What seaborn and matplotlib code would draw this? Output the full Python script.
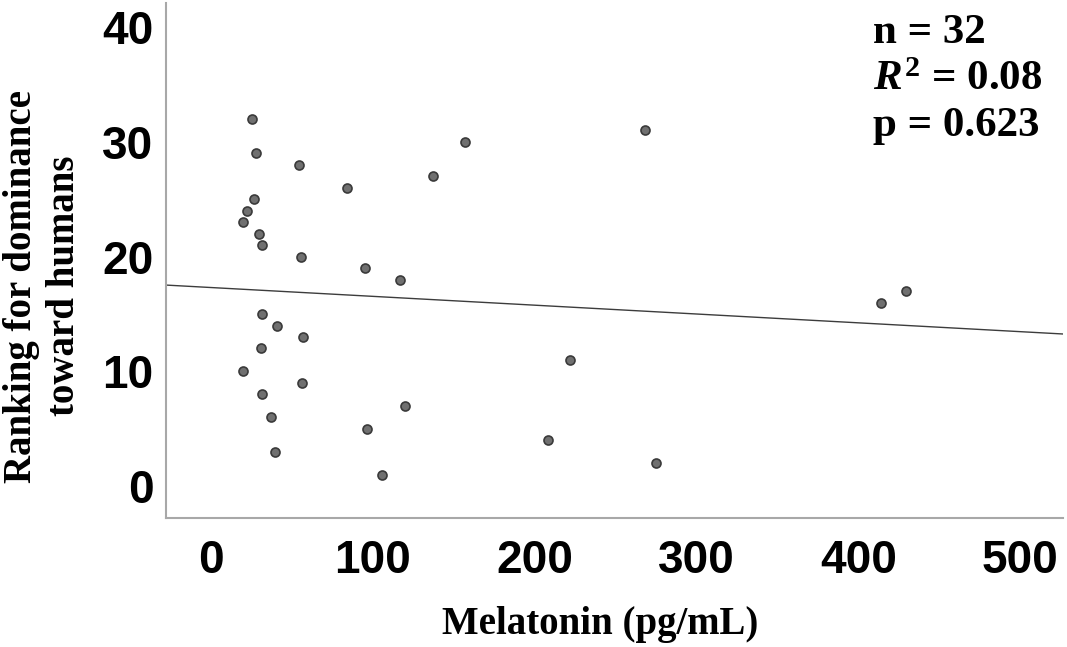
import matplotlib
matplotlib.use('Agg')
import matplotlib.pyplot as plt
import pandas as pd
import seaborn as sns

# melatonin (pg/mL) and dominance ranking
melatonin = [25.3, 268, 157, 27.8, 54.2, 137.2, 84.2, 26.6, 22.4, 19.6,
             29.5, 31.5, 55.8, 95.0, 116.6, 429.5, 414.1, 31.5, 40.6, 56.7,
             31.1, 221.9, 19.8, 56.1, 31.7, 119.9, 36.9, 96.6, 208.3, 39.7,
             275.2, 105.9]
ranking = [32, 31, 30, 29, 28, 27, 26, 25, 24, 23,
           22, 21, 20, 19, 18, 17, 16, 15, 14, 13,
           12, 11, 10, 9, 8, 7, 6, 5, 4, 3,
           2, 1]
x_ticks = [0, 100, 200, 300, 400, 500]
y_ticks = [0, 10, 20, 30, 40]
stats_lines = ['n = 32', r'$R^2$ = 0.08', 'p = 0.623']

df = pd.DataFrame({'melatonin': melatonin, 'ranking': ranking})

sns.set_style('white')
plt.rcParams['text.color'] = 'black'
plt.rcParams['mathtext.fontset'] = 'custom'
plt.rcParams['mathtext.it'] = 'Liberation Serif:italic:bold'
plt.rcParams['mathtext.rm'] = 'Liberation Serif:bold'

fig = plt.figure(figsize=(10.67, 6.47), dpi=100)
ax = fig.add_axes([0.1556, 0.1994, 0.8407, 0.796])
ax.set_xlim(-27.8, 526.6)
ax.set_ylim(-2.77, 42.1)

sns.regplot(x='melatonin', y='ranking', data=df, ax=ax, ci=None, truncate=False,
            scatter_kws={'s': 42, 'color': '#707070', 'edgecolor': '#3a3a3a',
                         'linewidths': 1.2, 'alpha': 1},
            line_kws={'color': '#3c3c3c', 'linewidth': 1.0})
ax.set_xlim(-27.8, 526.6)
ax.set_ylim(-2.77, 42.1)

ax.set_xticks(x_ticks)
ax.set_yticks(y_ticks)
ax.tick_params(axis='x', length=0, pad=15, labelcolor='black')
ax.tick_params(axis='y', length=0, pad=9, labelcolor='black')
for lab in ax.get_xticklabels() + ax.get_yticklabels():
    lab.set_fontfamily('Liberation Sans')
    lab.set_fontweight('bold')
    lab.set_fontsize(33)

for side in ['top', 'right']:
    ax.spines[side].set_visible(False)
for side in ['left', 'bottom']:
    ax.spines[side].set_color('#a8a8a8')
    ax.spines[side].set_linewidth(1.5)

ax.set_xlabel('Melatonin (pg/mL)', fontfamily='Liberation Serif',
              fontweight='bold', fontsize=28, color='black')
ax.set_ylabel('Ranking for dominance\ntoward humans', fontfamily='Liberation Serif',
              fontweight='bold', fontsize=28, linespacing=1.22, color='black')
ax.xaxis.set_label_coords(0.484, -0.17)
ax.yaxis.set_label_coords(-0.092, 0.45)

for i, line in enumerate(stats_lines):
    ax.text(0.788, 0.978 - i * 0.09, line, transform=ax.transAxes,
            fontfamily='Liberation Serif', fontweight='bold', fontsize=31,
            ha='left', va='top', color='black')

fig.savefig('out.png', dpi=100)
